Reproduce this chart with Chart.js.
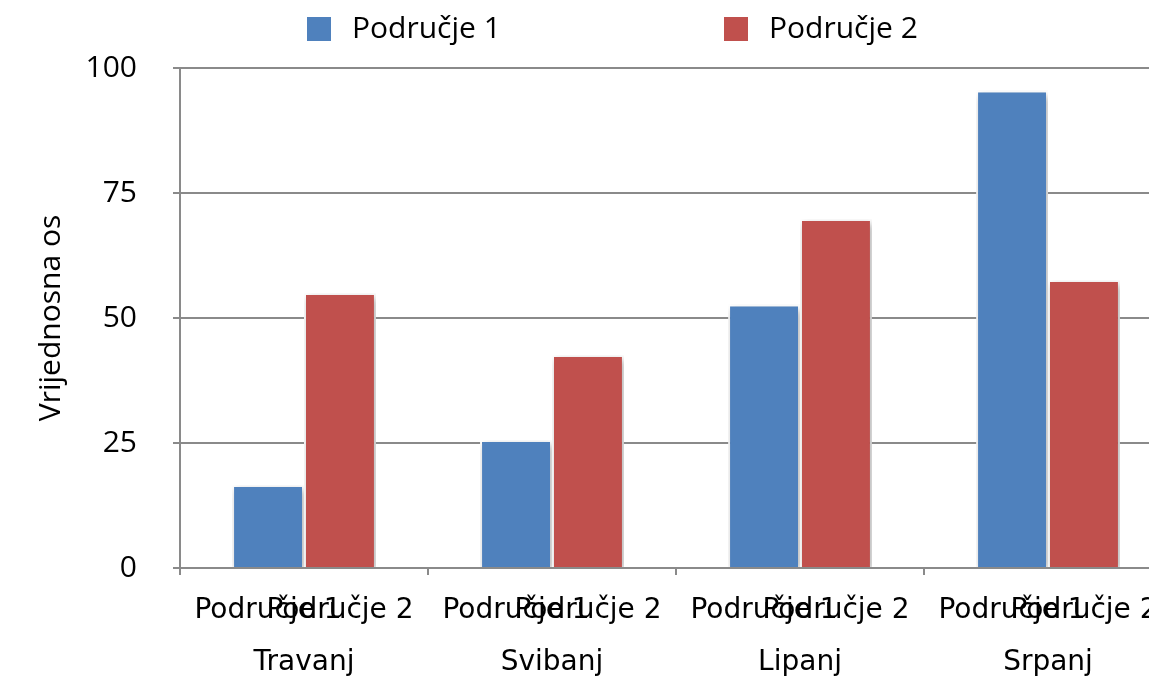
<!DOCTYPE html>
<html>
<head>
<meta charset="utf-8">
<script src="https://cdn.jsdelivr.net/npm/chart.js@4/dist/chart.umd.min.js"></script>
<style>
  html, body { margin: 0; padding: 0; background: #fff; overflow: hidden; }
  #wrap { position: absolute; left: 0; top: 0; width: 1180px; height: 680px; }
</style>
</head>
<body>
<div id="wrap"><canvas id="c" width="1180" height="680"></canvas></div>
<script>
const categories = ['Travanj', 'Svibanj', 'Lipanj', 'Srpanj'];
const seriesNames = ['Područje 1', 'Područje 2'];
const area1 = [16.6, 25.6, 52.7, 95.5];
const area2 = [55, 42.6, 69.8, 57.6];
const yTicks = [0, 25, 50, 75, 100];
const yTitle = 'Vrijednosna os';
const colors = ['#4F81BD', '#C0504D'];

const gridColor = '#8a8a8a';

const subLabelPlugin = {
  id: 'subLabels',
  afterDraw(chart) {
    const ctx = chart.ctx;
    ctx.save();
    ctx.font = '28px "DejaVu Sans"';
    ctx.fillStyle = '#000';
    ctx.textAlign = 'center';
    ctx.textBaseline = 'alphabetic';
    chart.data.datasets.forEach((ds, i) => {
      const meta = chart.getDatasetMeta(i);
      meta.data.forEach(bar => {
        ctx.fillText(ds.label, bar.x, 618);
      });
    });
    ctx.restore();
  }
};

const legendPlugin = {
  id: 'customLegend',
  afterDraw(chart) {
    const ctx = chart.ctx;
    const boxX = [307, 724];
    ctx.save();
    ctx.font = '30px "Open Sans"';
    ctx.textBaseline = 'middle';
    ctx.textAlign = 'left';
    chart.data.datasets.forEach((ds, i) => {
      ctx.fillStyle = ds.backgroundColor;
      ctx.fillRect(boxX[i], 17, 24, 24);
      ctx.fillStyle = '#000';
      ctx.fillText(ds.label, boxX[i] + 45, 29);
    });
    ctx.restore();
  }
};

const shadowPlugin = {
  id: 'barShadow',
  beforeDatasetsDraw(chart) {
    const ctx = chart.ctx;
    ctx.save();
    ctx.shadowColor = 'rgba(0,0,0,0.32)';
    ctx.shadowBlur = 7;
    ctx.shadowOffsetX = 2;
    ctx.shadowOffsetY = 3;
  },
  afterDatasetsDraw(chart) {
    chart.ctx.restore();
  }
};

new Chart(document.getElementById('c'), {
  type: 'bar',
  data: {
    labels: categories,
    datasets: [
      { label: seriesNames[0], data: area1, backgroundColor: colors[0], borderColor: '#ffffff', borderWidth: 2, categoryPercentage: 0.58, barPercentage: 1.0 },
      { label: seriesNames[1], data: area2, backgroundColor: colors[1], borderColor: '#ffffff', borderWidth: 2, categoryPercentage: 0.58, barPercentage: 1.0 }
    ]
  },
  options: {
    responsive: false,
    animation: false,
    layout: { padding: { top: 68, right: 8, left: 0, bottom: 0 } },
    plugins: {
      legend: { display: false },
      tooltip: { enabled: false }
    },
    scales: {
      x: {
        offset: true,
        grid: { display: true, drawOnChartArea: false, drawTicks: true, tickLength: 7, offset: true, color: gridColor, lineWidth: 2 },
        border: { display: true, color: gridColor, width: 2 },
        ticks: { color: '#000', font: { family: 'DejaVu Sans', size: 28 }, padding: 71, maxRotation: 0, autoSkip: false },
        afterFit(scale) { scale.height = 112; }
      },
      y: {
        min: 0,
        max: 100,
        afterBuildTicks(scale) { scale.ticks = yTicks.map(v => ({ value: v })); },
        grid: { color: gridColor, lineWidth: 2, tickLength: 7, drawTicks: true },
        border: { display: true, color: gridColor, width: 2 },
        ticks: { color: '#000', font: { family: 'Open Sans', size: 30 }, padding: 36 },
        title: { display: true, text: yTitle, color: '#000', font: { family: 'Open Sans', size: 30 }, padding: { top: 33, bottom: 0 } },
        afterFit(scale) { scale.width = 180; }
      }
    }
  },
  plugins: [shadowPlugin, subLabelPlugin, legendPlugin]
});
</script>
</body>
</html>
